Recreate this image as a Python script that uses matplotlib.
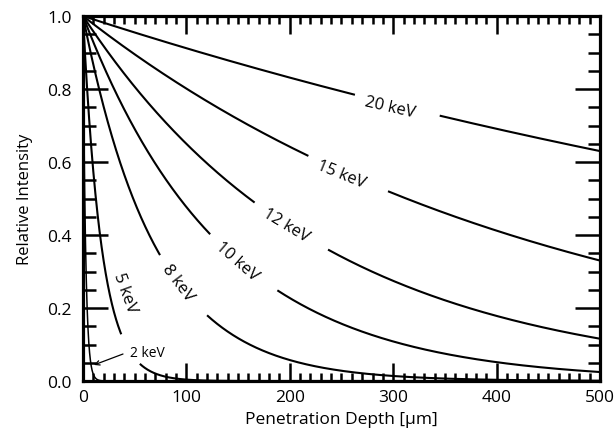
#!/usr/bin/env python3
import numpy as np
import matplotlib
matplotlib.use("Agg")
import matplotlib.pyplot as plt
from matplotlib.ticker import MultipleLocator

# attenuation lengths [um], I = exp(-x / L)
energies = ["20 keV", "15 keV", "12 keV", "10 keV", "8 keV", "5 keV", "2 keV"]
atten_len = [1082, 451, 232, 135, 70, 18, 2.5]
# gaps left in each curve for its label (x range in um)
gap_start = [263, 218, 166, 123, 74.5, 37, None]
gap_end = [345, 295, 237, 188, 120, 55, None]
# label centres and rotation
label_x = [297, 250, 196, 149, 92, 40.6, 45.5]
label_y = [0.751, 0.567, 0.427, 0.33, 0.27, 0.244, 0.079]
label_rot = [-13, -22, -31, -41, -53, -70, 0]

# arrow pointing at the 2 keV curve
arrow_tail = (38.7, 0.074)
arrow_head = (10.6, 0.044)

plt.rcParams['font.family'] = ['Open Sans', 'DejaVu Sans']

fig = plt.figure(figsize=(6.16, 4.35), dpi=100)
ax = fig.add_axes([0.1347, 0.1218, 0.8393, 0.8391])

x = np.linspace(0, 500, 5001)
for name, L, g0, g1, lx, ly, rot in zip(energies, atten_len, gap_start, gap_end,
                                        label_x, label_y, label_rot):
    y = np.exp(-x / L)
    if g0 is None:
        ax.plot(x, y, color='black', lw=1.1, solid_capstyle='butt')
    else:
        m1 = x <= g0
        m2 = x >= g1
        ax.plot(x[m1], y[m1], color='black', lw=1.5, solid_capstyle='butt')
        ax.plot(x[m2], y[m2], color='black', lw=1.5, solid_capstyle='butt')
    if name == "2 keV":
        ax.text(lx, ly, name, fontsize=10, ha='left', va='center')
    else:
        ax.text(lx, ly, name, fontsize=12, rotation=rot,
                ha='center', va='center', rotation_mode='anchor')

ax.annotate("", xy=arrow_head, xytext=arrow_tail,
            arrowprops=dict(arrowstyle='->', color='black', lw=0.9,
                            mutation_scale=8, shrinkA=0, shrinkB=0))

ax.set_xlim(0, 500)
ax.set_ylim(0, 1.0)
ax.xaxis.set_major_locator(MultipleLocator(100))
ax.xaxis.set_minor_locator(MultipleLocator(10))
ax.yaxis.set_major_locator(MultipleLocator(0.2))
ax.yaxis.set_minor_locator(MultipleLocator(0.05))
ax.yaxis.set_major_formatter(plt.FormatStrFormatter('%.1f'))

ax.tick_params(which='both', direction='in', top=True, right=True, width=1.8,
               labelsize=12.5)
ax.tick_params(axis='x', which='major', length=13, pad=6)
ax.tick_params(axis='x', which='minor', length=6)
ax.tick_params(axis='y', which='major', length=18, pad=8)
ax.tick_params(axis='y', which='minor', length=9)
for s in ax.spines.values():
    s.set_linewidth(2.3)

ax.set_xlabel("Penetration Depth [\u03bcm]", fontsize=12.5, labelpad=4)
ax.set_ylabel("Relative Intensity", fontsize=12, labelpad=10)

fig.savefig("out.png", dpi=100)
